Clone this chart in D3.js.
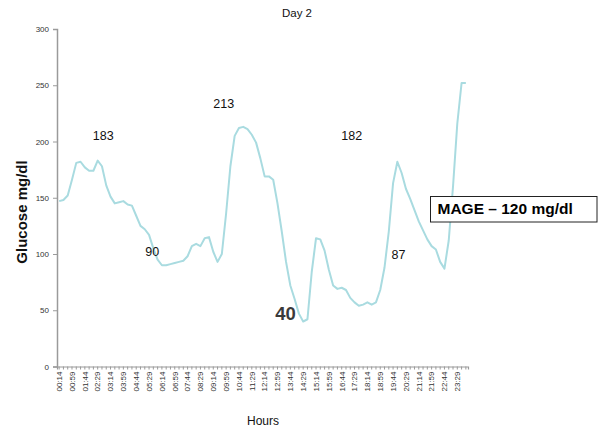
<!DOCTYPE html>
<html>
<head>
<meta charset="utf-8">
<script src="https://cdn.jsdelivr.net/npm/d3@7"></script>
<style>
  html, body { margin: 0; padding: 0; background: #fff; }
  svg { display: block; font-family: "Liberation Sans", Arial, sans-serif; }
</style>
</head>
<body>
<svg id="chart" width="600" height="430"></svg>
<script>
// Sensor readings every 15 minutes, from 00:14 to 23:59
const startMinute = 14;
const stepMinutes = 15;
const glucose = [
  147, 148, 152, 166, 181, 182, 177, 174, 174, 183,
  178, 161, 151, 145, 146, 147, 144, 143, 134, 125,
  122, 117, 105, 95, 90, 90, 91, 92, 93, 94,
  98, 107, 109, 107, 114, 115, 102, 93, 100, 136,
  178, 205, 212, 213, 211, 206, 199, 185, 169, 169,
  166, 145, 120, 93, 72, 60, 47, 40, 42, 84,
  114, 113, 103, 86, 72, 69, 70, 68, 61, 57,
  54, 55, 57, 55, 57, 68, 88, 120, 163, 182,
  172, 158, 149, 139, 129, 121, 113, 107, 104, 93,
  87, 112, 160, 216, 252, 252
];
const times = glucose.map((_, i) => {
  const m = startMinute + i * stepMinutes;
  return String(Math.floor(m / 60)).padStart(2, "0") + ":" + String(m % 60).padStart(2, "0");
});
const yTicks = [0, 50, 100, 150, 200, 250, 300];

// Peak and nadir call-outs: [index into glucose, dx, dy]
const calloutIdx = [9, 25, 43, 57, 79, 90];
const calloutOffset = [[5.6, -20.6], [-14, -9], [-19.5, -19], [-17.7, -1.5], [-45.6, -21.7], [-46, -9.6]];
const mageText = "MAGE – 120 mg/dl";

const svg = d3.select("#chart");
const x = d3.scaleBand().domain(times).range([57, 468]);
const y = d3.scaleLinear().domain([0, 300]).range([366.5, 29]);
const cx = t => x(t) + x.bandwidth() / 2;

// Y axis
const yAxis = svg.append("g")
  .attr("transform", "translate(57,0)")
  .call(d3.axisLeft(y).tickValues(yTicks).tickSize(4).tickPadding(4));
yAxis.select(".domain").attr("stroke", "#9a9a9a").attr("stroke-width", 1.5);
yAxis.selectAll(".tick line").attr("stroke", "#9a9a9a");
yAxis.selectAll(".tick text").attr("font-size", 8).attr("fill", "#333")
  .attr("font-family", "Liberation Sans, Arial, sans-serif");

// X axis: a tick for every reading, a label for every third
const xAxis = svg.append("g")
  .attr("transform", "translate(0,366.5)")
  .call(d3.axisBottom(x).tickSizeOuter(0).tickSize(3)
    .tickFormat((d, i) => i % 3 === 0 ? d : ""));
xAxis.select(".domain").attr("stroke", "#9a9a9a").attr("stroke-width", 1.2);
xAxis.selectAll(".tick line").attr("stroke", "#9a9a9a");
xAxis.selectAll(".tick text")
  .attr("font-size", 8).attr("fill", "#333")
  .attr("font-family", "Liberation Sans, Arial, sans-serif")
  .attr("transform", "rotate(-90)")
  .attr("text-anchor", "end")
  .attr("x", -5).attr("y", 0).attr("dy", "0.35em");

// Glucose trace
svg.append("path")
  .datum(glucose)
  .attr("fill", "none")
  .attr("stroke", "#a9dbe0")
  .attr("stroke-width", 2)
  .attr("stroke-linejoin", "round")
  .attr("d", d3.line().x((d, i) => cx(times[i])).y(d => y(d)));

// Value call-outs
calloutIdx.forEach((idx, k) => {
  const v = glucose[idx];
  const big = v === d3.min(glucose);
  svg.append("text")
    .attr("x", cx(times[idx]) + calloutOffset[k][0])
    .attr("y", y(v) + calloutOffset[k][1])
    .attr("text-anchor", "middle")
    .attr("font-size", big ? 18.5 : 12.5)
    .attr("font-weight", big ? "bold" : "normal")
    .attr("fill", big ? "#3a3a3a" : "#111")
    .text(v);
});

// Title and axis titles
svg.append("text").attr("x", 297).attr("y", 17).attr("text-anchor", "middle")
  .attr("font-size", 11.5).attr("fill", "#111").text("Day 2");
svg.append("text").attr("x", 263).attr("y", 425).attr("text-anchor", "middle")
  .attr("font-size", 12).attr("fill", "#111").text("Hours");
svg.append("text")
  .attr("transform", "translate(26.5,212) rotate(-90)")
  .attr("text-anchor", "middle").attr("font-size", 15).attr("font-weight", "bold")
  .attr("fill", "#111").text("Glucose mg/dl");

// MAGE box
svg.append("rect").attr("x", 430.5).attr("y", 196.5).attr("width", 166.5).attr("height", 25.5)
  .attr("fill", "#fff").attr("stroke", "#222").attr("stroke-width", 1);
svg.append("text").attr("x", 437.5).attr("y", 214.3)
  .attr("font-size", 15.5).attr("font-weight", "bold").attr("fill", "#000").text(mageText);
</script>
</body>
</html>
